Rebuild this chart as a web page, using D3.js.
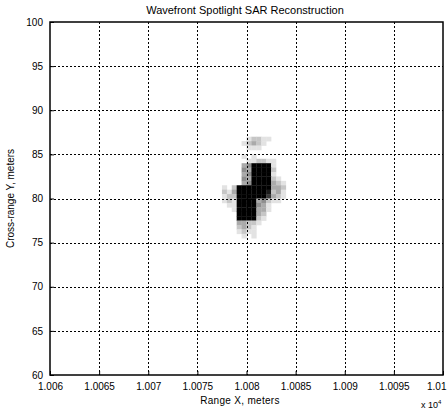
<!DOCTYPE html>
<html>
<head>
<meta charset="utf-8">
<script src="https://cdn.jsdelivr.net/npm/d3@7"></script>
<style>
  html, body { margin: 0; padding: 0; background: #fff; }
  svg { display: block; }
  text { font-family: "Liberation Sans", Arial, sans-serif; fill: #000; }
</style>
</head>
<body>
<svg id="chart" width="447" height="413"></svg>
<script>
// Axis extents (meters) and tick values
const xDomain = [10060, 10100];
const yDomain = [60, 100];
const xTicks = [10060, 10065, 10070, 10075, 10080, 10085, 10090, 10095, 10100];
const xTickLabels = ["1.006", "1.0065", "1.007", "1.0075", "1.008", "1.0085", "1.009", "1.0095", "1.01"];
const yTicks = [60, 65, 70, 75, 80, 85, 90, 95, 100];
const yTickLabels = ["60", "65", "70", "75", "80", "85", "90", "95", "100"];

// Reconstructed image patch: left edge, top edge, cell size (meters),
// and intensity levels 0 (white) .. 9 (black), rows listed top to bottom.
const patchX0 = 10077;
const patchYTop = 88;
const cellSize = 0.5;
const imageRows = [
  "0000000000000000",
  "0000000000000000",
  "0000001221100000",
  "0000012321000000",
  "0000001110000000",
  "0000000000000000",
  "0000010100000000",
  "0000001122110000",
  "0000034999910000",
  "0000043999920000",
  "0000034999910000",
  "0000043999921000",
  "0000034999932100",
  "0102999999933200",
  "0213999999823100",
  "0122999999732100",
  "0121999934211000",
  "0011999943100000",
  "0001999933100000",
  "0000999932000000",
  "0000999921000000",
  "0000332210000000",
  "0000232100000000",
  "0000121100000000",
  "0000010100000000",
  "0000000000000000"
];

const svg = d3.select("#chart");
const margin = { left: 50, right: 4, top: 22, bottom: 38 };
const W = 447, H = 413;

const x = d3.scaleLinear().domain(xDomain).range([margin.left, W - margin.right]);
const y = d3.scaleLinear().domain(yDomain).range([H - margin.bottom, margin.top]);
const shade = d3.scaleLinear().domain([0, 9]).range(["#ffffff", "#000000"]);

// Image cells
const cells = [];
imageRows.forEach((row, i) => {
  row.split("").forEach((ch, j) => {
    const v = +ch;
    if (v > 0) cells.push({ x0: patchX0 + j * cellSize, yTop: patchYTop - i * cellSize, v });
  });
});

svg.append("g").selectAll("rect")
  .data(cells)
  .join("rect")
  .attr("x", d => x(d.x0))
  .attr("y", d => y(d.yTop))
  .attr("width", d => x(d.x0 + cellSize) - x(d.x0) + 0.3)
  .attr("height", d => y(d.yTop - cellSize) - y(d.yTop) + 0.3)
  .attr("fill", d => shade(d.v));

// Dotted grid
const grid = svg.append("g").attr("stroke", "#000").attr("stroke-width", 1).attr("stroke-dasharray", "2,2");
grid.selectAll("line.gx")
  .data(xTicks.slice(1, -1))
  .join("line")
  .attr("class", "gx")
  .attr("x1", d => Math.round(x(d)) + 0.5).attr("x2", d => Math.round(x(d)) + 0.5)
  .attr("y1", y(yDomain[1])).attr("y2", y(yDomain[0]));
grid.selectAll("line.gy")
  .data(yTicks.slice(1, -1))
  .join("line")
  .attr("class", "gy")
  .attr("y1", d => Math.round(y(d)) + 0.5).attr("y2", d => Math.round(y(d)) + 0.5)
  .attr("x1", x(xDomain[0])).attr("x2", x(xDomain[1]));

// Axes with inward ticks
const xAxis = d3.axisBottom(x).tickValues(xTicks).tickSize(-4).tickPadding(8)
  .tickFormat((d, i) => xTickLabels[i]);
const yAxis = d3.axisLeft(y).tickValues(yTicks).tickSize(-4).tickPadding(7)
  .tickFormat((d, i) => yTickLabels[i]);

const gx = svg.append("g").attr("transform", `translate(0,${y(yDomain[0])})`).call(xAxis);
const gy = svg.append("g").attr("transform", `translate(${x(xDomain[0])},0)`).call(yAxis);
[gx, gy].forEach(g => {
  g.select(".domain").remove();
  g.selectAll("text").style("font-size", "10px").style("font-family", "'Liberation Sans', Arial, sans-serif");
  g.selectAll("line").attr("stroke", "#000");
});
// keep the last range label inside the page edge
gx.selectAll(".tick:last-of-type text").attr("text-anchor", "end").attr("x", W - 1 - x(xDomain[1]));

// Axes box
svg.append("rect")
  .attr("x", x(xDomain[0])).attr("y", y(yDomain[1]))
  .attr("width", x(xDomain[1]) - x(xDomain[0]))
  .attr("height", y(yDomain[0]) - y(yDomain[1]))
  .attr("fill", "none").attr("stroke", "#000").attr("stroke-width", 1.5);

// Titles
svg.append("text")
  .attr("x", 245).attr("y", 14)
  .attr("text-anchor", "middle").style("font-size", "11px")
  .text("Wavefront Spotlight SAR Reconstruction");

svg.append("text")
  .attr("x", 240).attr("y", 404)
  .attr("text-anchor", "middle").style("font-size", "10px")
  .style("letter-spacing", "0.3px")
  .text("Range X, meters");

svg.append("text")
  .attr("transform", `translate(14,${(y(yDomain[0]) + y(yDomain[1])) / 2}) rotate(-90)`)
  .attr("text-anchor", "middle").style("font-size", "10px")
  .text("Cross-range Y, meters");

const exp = svg.append("text").attr("x", 421).attr("y", 408).style("font-size", "9px");
exp.append("tspan").text("x 10");
exp.append("tspan").attr("dy", -4).style("font-size", "6px").text("4");
</script>
</body>
</html>
